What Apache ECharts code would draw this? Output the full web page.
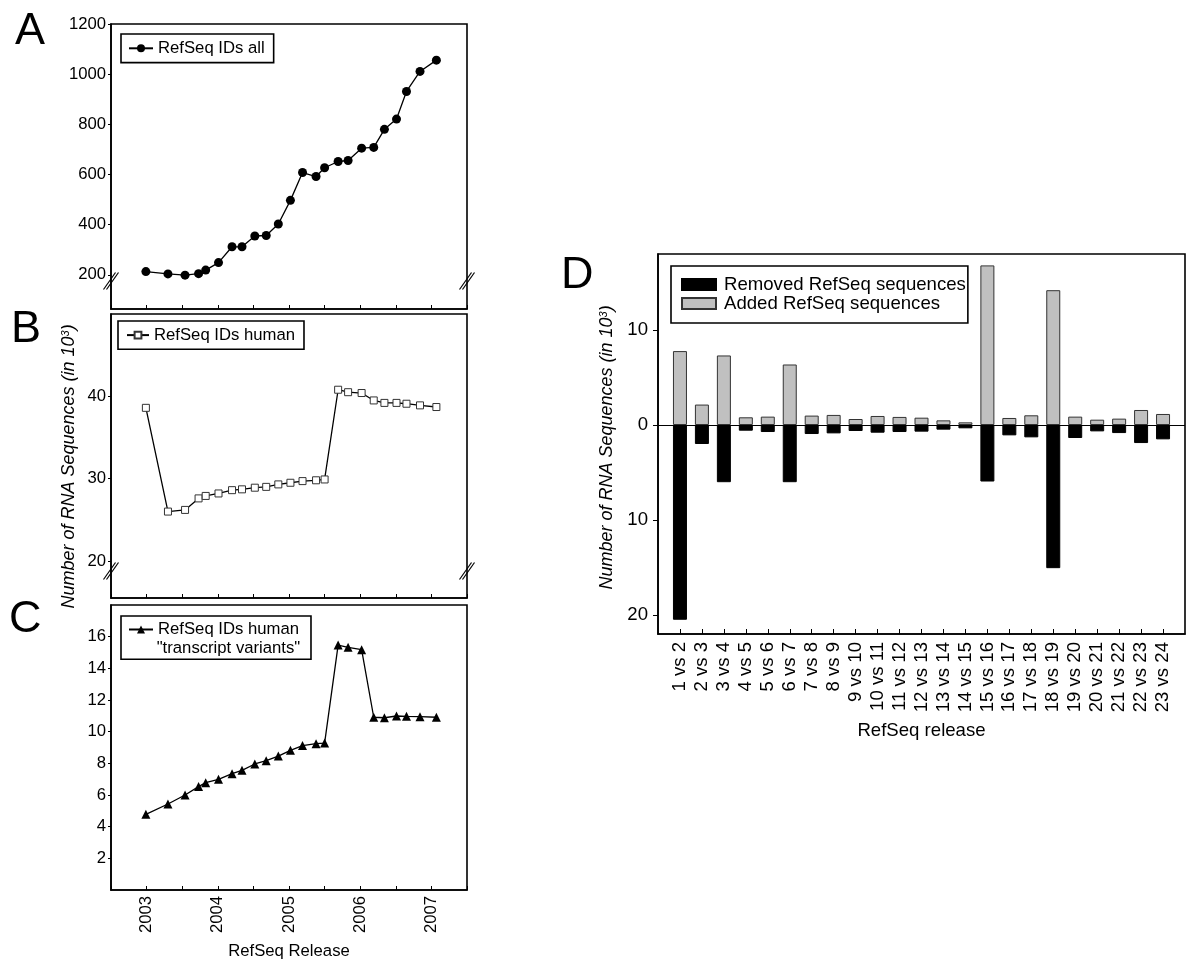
<!DOCTYPE html>
<html><head><meta charset="utf-8">
<script src="https://cdn.jsdelivr.net/npm/echarts@6/dist/echarts.min.js"></script>
<style>html,body{margin:0;padding:0;background:#fff}#c{width:1200px;height:974px}</style>
</head><body><div id="c"></div>
<script>
// ---- data ----
const releaseDates = [2002.99,2003.30,2003.54,2003.73,2003.83,2004.01,2004.20,2004.34,2004.52,2004.68,2004.85,2005.02,2005.19,2005.38,2005.50,2005.69,2005.83,2006.02,2006.19,2006.34,2006.51,2006.65,2006.84,2007.07];
const idsAll = [213,204,199,205,219,249,312,312,355,357,403,497,608,592,627,652,656,705,708,780,821,931,1011,1056];
const idsHuman = [38.6,26.0,26.2,27.6,27.9,28.2,28.6,28.7,28.9,29.0,29.3,29.5,29.7,29.8,29.9,40.8,40.5,40.4,39.5,39.2,39.2,39.1,38.9,38.7];
const transcriptVariants = [4.78,5.43,6.0,6.53,6.78,6.99,7.35,7.56,7.96,8.17,8.46,8.82,9.12,9.24,9.28,15.47,15.33,15.18,10.91,10.88,10.99,10.97,10.95,10.91];
const ticksA = [200,400,600,800,1000,1200];
const ticksB = [20,30,40];
const ticksC = [2,4,6,8,10,12,14,16];
const comparisons = ['1 vs 2','2 vs 3','3 vs 4','4 vs 5','5 vs 6','6 vs 7','7 vs 8','8 vs 9','9 vs 10','10 vs 11','11 vs 12','12 vs 13','13 vs 14','14 vs 15','15 vs 16','16 vs 17','17 vs 18','18 vs 19','19 vs 20','20 vs 21','21 vs 22','22 vs 23','23 vs 24'];
const comparisonPos = [1,2,3,4,5,6,7,8,9,10,11,12,13,14,15,16,17,18,19,20,21,22,23];
const added = [7.78,2.15,7.32,0.81,0.88,6.37,0.99,1.06,0.63,0.95,0.85,0.77,0.49,0.28,16.8,0.74,1.02,14.19,0.88,0.56,0.67,1.58,1.16];
const removed = [20.5,2.0,6.02,0.6,0.74,6.02,0.95,0.88,0.63,0.81,0.74,0.70,0.49,0.35,5.95,1.09,1.30,15.07,1.37,0.67,0.85,1.90,1.51];
const ticksD = [-20,-10,0,10];

const FONT = '"Liberation Sans", Arial, Helvetica, sans-serif';
const chart = echarts.init(document.getElementById('c'), null, {renderer:'canvas'});

const GA = {left:111, top:24, width:356, height:285};
const GB = {left:111, top:314, width:356, height:284};
const GC = {left:111, top:605, width:356, height:285};
const GD = {left:658, top:254, width:527, height:380};
const grids = [GA,GB,GC,GD].map(g => Object.assign({show:true, borderColor:'#000', borderWidth:1.6, backgroundColor:'transparent'}, g));

function timeAxis(i){
  return {
    type:'value', gridIndex:i, min:2002.5, max:2007.5, interval:0.5,
    axisLine:{show:true, onZero:false, lineStyle:{color:'#000', width:1.6}},
    axisTick:{show:true, inside:true, length:4, lineStyle:{color:'#000', width:1}},
    splitLine:{show:false},
    axisLabel:{show:i===2, rotate:90, margin:6, fontSize:16.7, color:'#000',
      formatter: v => Number.isInteger(v) ? String(v) : ''}
  };
}
function valAxis(i, min, max, ticks){
  return {
    type:'value', gridIndex:i, min:min, max:max,
    axisLine:{show:true, lineStyle:{color:'#000', width:1.6}},
    axisTick:{show:true, inside:false, length:3, customValues:ticks, lineStyle:{color:'#000', width:1}},
    splitLine:{show:false},
    axisLabel:{show:true, margin:5, fontSize:16.7, color:'#000', customValues:ticks, formatter: v => String(v)}
  };
}
const yName = '{i|Number of RNA Sequences (in 10}{s|3}{i|)}';
const yNameRich = {
  i:{fontStyle:'italic', fontSize:18, fontFamily:FONT, color:'#000'},
  s:{fontStyle:'italic', fontSize:11, fontFamily:FONT, color:'#000', verticalAlign:'top'}
};

const xAxes = [timeAxis(0), timeAxis(1), timeAxis(2)];
xAxes[2].name = 'RefSeq Release';
xAxes[2].nameLocation = 'middle';
xAxes[2].nameGap = 53;
xAxes[2].nameTextStyle = {fontSize:16.7, color:'#000'};
xAxes.push({
  type:'value', gridIndex:3, min:0, max:24,
  axisLine:{show:true, onZero:false, lineStyle:{color:'#000', width:1.6}},
  axisTick:{show:true, inside:true, length:5, customValues:comparisonPos, lineStyle:{color:'#000', width:1}},
  splitLine:{show:false},
  axisLabel:{show:true, rotate:90, margin:8, fontSize:18.6, color:'#000', customValues:comparisonPos,
    formatter: v => comparisons[v-1] || ''},
  name:'RefSeq release', nameLocation:'middle', nameGap:87,
  nameTextStyle:{fontSize:18.6, color:'#000'}
});

const yAxes = [
  valAxis(0, 64, 1200, ticksA),
  valAxis(1, 15.5, 50, ticksB),
  valAxis(2, 0, 18, ticksC),
  {
    type:'value', gridIndex:3, min:-22, max:18,
    axisLine:{show:true, lineStyle:{color:'#000', width:1.6}},
    axisTick:{show:true, inside:false, length:5, customValues:ticksD, lineStyle:{color:'#000', width:1}},
    splitLine:{show:false},
    axisLabel:{show:true, margin:10, fontSize:18.6, color:'#000', customValues:ticksD, formatter: v => String(Math.abs(v))},
    name:yName, nameLocation:'middle', nameGap:42,
    nameTextStyle:{rich:yNameRich, padding:[0,7,0,0]}
  }
];
yAxes[1].name = yName;
yAxes[1].nameLocation = 'middle';
yAxes[1].nameGap = 33;
yAxes[1].nameTextStyle = {rich:yNameRich, padding:[0,21,0,0]};

const lineBase = {type:'line', lineStyle:{color:'#000', width:1.3}, animation:false};
const series = [
  Object.assign({}, lineBase, {name:'RefSeq IDs all', xAxisIndex:0, yAxisIndex:0,
    symbol:'circle', symbolSize:9, itemStyle:{color:'#000'},
    data: releaseDates.map((d,i)=>[d, idsAll[i]])}),
  Object.assign({}, lineBase, {name:'RefSeq IDs human', xAxisIndex:1, yAxisIndex:1,
    symbol:'rect', symbolSize:7, showAllSymbol:true, itemStyle:{color:'#fff', borderColor:'#333', borderWidth:1},
    data: releaseDates.map((d,i)=>[d, idsHuman[i]])}),
  Object.assign({}, lineBase, {name:'RefSeq IDs human "transcript variants"', xAxisIndex:2, yAxisIndex:2,
    symbol:'triangle', symbolSize:9, itemStyle:{color:'#000'},
    data: releaseDates.map((d,i)=>[d, transcriptVariants[i]])}),
  {name:'Removed RefSeq sequences', type:'bar', xAxisIndex:3, yAxisIndex:3, barWidth:14, barGap:'-100%',
    itemStyle:{color:'#000', borderColor:'#000', borderWidth:1},
    data: removed.map((v,i)=>[comparisonPos[i], -v])},
  {name:'Added RefSeq sequences', type:'bar', xAxisIndex:3, yAxisIndex:3, barWidth:14, barGap:'-100%',
    itemStyle:{color:'#c0c0c0', borderColor:'#333', borderWidth:1},
    data: added.map((v,i)=>[comparisonPos[i], v]),
    markLine:{silent:true, symbol:'none', label:{show:false}, lineStyle:{color:'#000', width:1.2, type:'solid'},
      data:[{yAxis:0}]}}
];

const legBase = {borderColor:'#000', borderWidth:1.6, itemGap:0, backgroundColor:'#fff',
  textStyle:{fontSize:16.7, color:'#000', lineHeight:19}};
const legends = [
  Object.assign({}, legBase, {data:['RefSeq IDs all'], left:121, top:34, padding:[4.8,9,4.8,7], itemWidth:24, itemHeight:10}),
  Object.assign({}, legBase, {data:['RefSeq IDs human'], left:118, top:321, padding:[4.6,9,4.6,8], itemWidth:22, itemHeight:8.5}),
  Object.assign({}, legBase, {data:['RefSeq IDs human "transcript variants"'], left:121, top:616, padding:[4,12,20.3,7], itemWidth:24, itemHeight:10,
    formatter: () => 'RefSeq IDs human'}),
  {data:['Removed RefSeq sequences','Added RefSeq sequences'], orient:'vertical', left:671, top:266, icon:'rect',
    padding:[9,2,10,10], itemWidth:34, itemHeight:11, itemGap:0, borderColor:'#000', borderWidth:1.6, backgroundColor:'#fff',
    textStyle:{fontSize:18.6, color:'#000', lineHeight:18.5, padding:[0,0,0,3]}}
];

function breakMark(x, y){
  const ls = {stroke:'#000', lineWidth:1.2};
  return {type:'group', children:[
    {type:'line', shape:{x1:x-7.5, y1:y+8.5, x2:x+4.5, y2:y-8.5}, style:ls},
    {type:'line', shape:{x1:x-4.5, y1:y+8.5, x2:x+7.5, y2:y-8.5}, style:ls}
  ]};
}
const letterStyle = {fontSize:45, fill:'#000', fontFamily:FONT};
const graphics = [
  {type:'text', left:15, top:9, style:Object.assign({text:'A'}, letterStyle)},
  {type:'text', left:11, top:307, style:Object.assign({text:'B'}, letterStyle)},
  {type:'text', left:9, top:597, style:Object.assign({text:'C'}, letterStyle)},
  {type:'text', left:561, top:253, style:Object.assign({text:'D'}, letterStyle)},
  {type:'text', left:156.7, top:639, z:100, style:{text:'"transcript variants"', fontSize:16.7, fill:'#000', fontFamily:FONT, lineHeight:19}},
  breakMark(GA.left, GA.top+GA.height-28),
  breakMark(GA.left+GA.width, GA.top+GA.height-28),
  breakMark(GB.left, GB.top+GB.height-27),
  breakMark(GB.left+GB.width, GB.top+GB.height-27)
];

chart.setOption({
  animation:false,
  backgroundColor:'#fff',
  textStyle:{fontFamily:FONT, color:'#000'},
  grid:grids, xAxis:xAxes, yAxis:yAxes, series:series, legend:legends, graphic:graphics
});
</script></body></html>
